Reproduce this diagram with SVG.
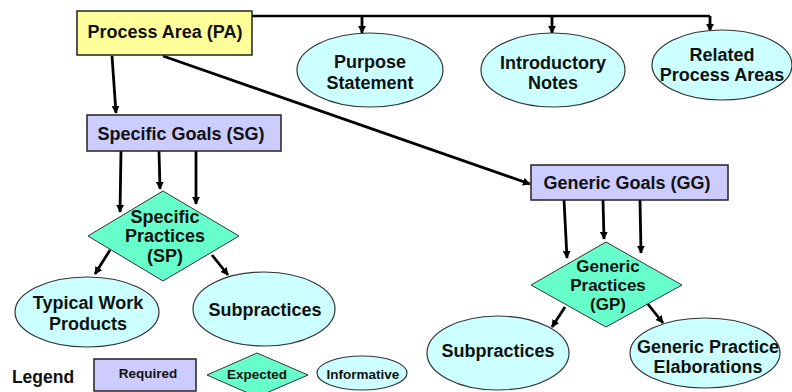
<svg xmlns="http://www.w3.org/2000/svg" width="792" height="392" viewBox="0 0 792 392">
<defs>
<marker id="ah" viewBox="0 0 10 10" refX="9" refY="5" markerWidth="2.8" markerHeight="2.8" orient="auto" markerUnits="strokeWidth">
<path d="M0,0 L10,5 L0,10 Z" fill="#000"/>
</marker>
<style>
.t{font-family:"Liberation Sans",Arial,sans-serif;font-weight:bold;font-size:18px;fill:#111;text-anchor:middle}
.d{font-size:17px}
.s{font-size:13.5px}
.req{fill:#CCCCFF;stroke:#222;stroke-width:1.5}
.pa{fill:#FFFF99;stroke:#222;stroke-width:1.5}
.exp{fill:#66FFCC;stroke:#333;stroke-width:1}
.inf{fill:#CCFFFF;stroke:#333;stroke-width:1.2}
.c{fill:none;stroke:#000;stroke-width:2.8;marker-end:url(#ah)}
.c2{fill:none;stroke:#000;stroke-width:2.6}
</style>
</defs>
<rect width="792" height="392" fill="#fff"/>
<g id="connectors">
<path class="c2" d="M252,16 L710,16"/>
<path class="c" d="M362,16 L362,33"/>
<path class="c" d="M552,16 L552,33"/>
<path class="c" d="M710,16 L710,31"/>
<path class="c" d="M112,56 L116,113"/>
<path class="c" d="M163,56 L530,184"/>
<path class="c" d="M121,151 L120,212"/>
<path class="c" d="M159,151 L160,189"/>
<path class="c" d="M196,151 L196,204"/>
<path class="c" d="M110,250 L95,274"/>
<path class="c" d="M212,255 L228,275"/>
<path class="c" d="M564,200 L567,258"/>
<path class="c" d="M603,200 L604,239"/>
<path class="c" d="M640,200 L641,253"/>
<path class="c" d="M565,307 L552,327"/>
<path class="c" d="M647,303 L663,323"/>
</g>
<g id="pa">
<rect class="pa" x="77" y="11" width="175" height="44"/>
<text class="t" x="165" y="38">Process Area (PA)</text>
</g>
<g id="purpose">
<ellipse class="inf" cx="370" cy="70" rx="73" ry="37"/>
<text class="t" x="370" y="68">Purpose</text>
<text class="t" x="370" y="89">Statement</text>
</g>
<g id="intro">
<ellipse class="inf" cx="553" cy="70" rx="72" ry="37"/>
<text class="t" x="553" y="69">Introductory</text>
<text class="t" x="553" y="89">Notes</text>
</g>
<g id="related">
<ellipse class="inf" cx="722" cy="65" rx="70" ry="35"/>
<text class="t" x="722" y="61">Related</text>
<text class="t" x="722" y="81">Process Areas</text>
</g>
<g id="sg">
<rect class="req" x="87" y="115" width="194" height="36"/>
<text class="t" x="181" y="140">Specific Goals (SG)</text>
</g>
<g id="gg">
<rect class="req" x="531" y="165" width="197" height="35"/>
<text class="t" x="627" y="189">Generic Goals (GG)</text>
</g>
<g id="sp">
<polygon class="exp" points="88,236 163,191 239,236 163,281"/>
<text class="t" x="165" y="223">Specific</text>
<text class="t" x="165" y="242">Practices</text>
<text class="t" x="165" y="262">(SP)</text>
</g>
<g id="gp">
<polygon class="exp" points="531,285 606,242 682,285 606,327"/>
<text class="t d" x="608" y="272">Generic</text>
<text class="t d" x="608" y="291">Practices</text>
<text class="t d" x="608" y="310">(GP)</text>
</g>
<g id="twp">
<ellipse class="inf" cx="87" cy="312" rx="72" ry="35"/>
<text class="t" x="88" y="309">Typical Work</text>
<text class="t" x="88" y="330">Products</text>
</g>
<g id="subp1">
<ellipse class="inf" cx="264" cy="309" rx="71" ry="37"/>
<text class="t" x="265" y="316">Subpractices</text>
</g>
<g id="subp2">
<ellipse class="inf" cx="498" cy="353" rx="71" ry="37"/>
<text class="t" x="498" y="357">Subpractices</text>
</g>
<g id="gpe">
<ellipse class="inf" cx="705" cy="353" rx="75" ry="35"/>
<text class="t" x="708" y="353">Generic Practice</text>
<text class="t" x="708" y="373">Elaborations</text>
</g>
<g id="legend">
<text class="t" x="43" y="383" style="font-size:17.5px">Legend</text>
<rect class="req" x="94" y="359" width="102" height="32"/>
<text class="t s" x="148" y="378">Required</text>
<polygon class="exp" points="207,375 257,353 308,375 257,397"/>
<text class="t s" x="257" y="379">Expected</text>
<ellipse class="inf" cx="362" cy="373" rx="45" ry="17"/>
<text class="t s" x="363" y="379">Informative</text>
</g>
</svg>
